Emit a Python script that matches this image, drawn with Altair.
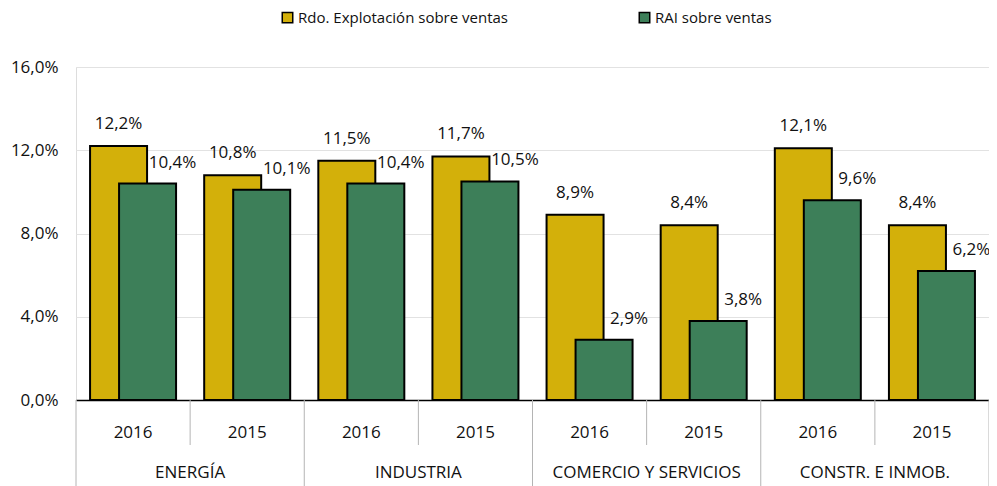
import altair as alt
import pandas as pd

sectores = ["ENERGÍA", "INDUSTRIA", "COMERCIO Y SERVICIOS", "CONSTR. E INMOB."]
anios = ["2016", "2015"]
rdo_explotacion = [12.2, 10.8, 11.5, 11.7, 8.9, 8.4, 12.1, 8.4]
rai_ventas = [10.4, 10.1, 10.4, 10.5, 2.9, 3.8, 9.6, 6.2]
series = ["Rdo. Explotación sobre ventas", "RAI sobre ventas"]
colores = ["#D3B00A", "#3D7F59"]
y_ticks = [0, 4, 8, 12, 16]

W, H = 913, 333
FONT = "Open Sans"

keys = [f"{s}|{a}" for s in sectores for a in anios]
rows = []
for i, k in enumerate(keys):
    s, a = k.split("|")
    rows.append(dict(key=k, sector=s, anio=a, serie=series[0], valor=rdo_explotacion[i]))
    rows.append(dict(key=k, sector=s, anio=a, serie=series[1], valor=rai_ventas[i]))
df = pd.DataFrame(rows)

cats = pd.DataFrame({
    "key": keys,
    "anio": [k.split("|")[1] for k in keys],
    "first": [k.split("|")[1] == anios[0] for k in keys],
})
sect = pd.DataFrame({"key": [f"{s}|{anios[0]}" for s in sectores], "sector": sectores})
last = pd.DataFrame({"key": [keys[-1]]})

xscale = alt.Scale(domain=keys, paddingInner=0, paddingOuter=0)
xaxis = alt.Axis(labels=False, ticks=False, grid=False, domainColor="black", domainWidth=1.5)
yscale = alt.Scale(domain=[0, 16], nice=False)
yaxis = alt.Axis(values=y_ticks, grid=True, gridColor="#e2e2e2", gridWidth=1, ticks=False,
                 domain=False, labelPadding=18, labelFont=FONT, labelFontSize=17,
                 labelColor="#111111",
                 labelExpr="replace(format(datum.value, '.1f'), '.', ',') + '%'")

legend = alt.Legend(orient="none", legendX=204, legendY=-57, direction="horizontal",
                    columnPadding=128, symbolType="square", symbolSize=110,
                    symbolStrokeColor="black", symbolStrokeWidth=1.5, symbolOpacity=1,
                    labelFont=FONT, labelFontSize=15, labelColor="#111111", labelOffset=3,
                    labelLimit=500, title=None)
color = alt.Color("serie:N", scale=alt.Scale(domain=series, range=colores), legend=legend)

base = alt.Chart(df).transform_calculate(
    etiqueta="replace(format(datum.valor, '.1f'), '.', ',') + '%'"
)
X = alt.X("key:N", scale=xscale, axis=xaxis, title=None, sort=keys)
Y = alt.Y("valor:Q", scale=yscale, axis=yaxis, title=None)

bar1 = base.transform_filter(alt.datum.serie == series[0]).mark_bar(
    width=57, xOffset=-14.5, stroke="black", strokeWidth=2
).encode(x=X, y=Y, color=color)
bar2 = base.transform_filter(alt.datum.serie == series[1]).mark_bar(
    width=57, xOffset=14.5, stroke="black", strokeWidth=2
).encode(x=X, y=Y, color=color)

txt1 = base.transform_filter(alt.datum.serie == series[0]).mark_text(
    dx=-14.5, dy=-22, baseline="middle", align="center", font=FONT, fontSize=17, color="#111111"
).encode(x=X, y=Y, text="etiqueta:N")
txt2 = base.transform_filter(alt.datum.serie == series[1]).mark_text(
    dx=39.5, dy=-21, baseline="middle", align="center", font=FONT, fontSize=17, color="#111111"
).encode(x=X, y=Y, text="etiqueta:N")

years_txt = alt.Chart(cats).mark_text(
    baseline="middle", align="center", font=FONT, fontSize=17, color="#111111"
).encode(x=alt.X("key:N", scale=xscale, title=None), y=alt.value(H + 33), text="anio:N")

sector_txt = alt.Chart(sect).mark_text(
    baseline="middle", align="center", font=FONT, fontSize=17, color="#111111"
).encode(x=alt.X("key:N", scale=xscale, bandPosition=1, title=None),
         y=alt.value(H + 73), text="sector:N")

sep_year = alt.Chart(cats).transform_filter("!datum.first").mark_rule(
    color="#b4b4b4", strokeWidth=1
).encode(x=alt.X("key:N", scale=xscale, bandPosition=0, title=None),
         y=alt.value(H), y2=alt.value(H + 45))
sep_sector = alt.Chart(cats).transform_filter("datum.first").mark_rule(
    color="#b4b4b4", strokeWidth=1
).encode(x=alt.X("key:N", scale=xscale, bandPosition=0, title=None),
         y=alt.value(H), y2=alt.value(H + 90))
sep_end = alt.Chart(last).mark_rule(color="#b4b4b4", strokeWidth=1).encode(
    x=alt.X("key:N", scale=xscale, bandPosition=1, title=None),
    y=alt.value(H), y2=alt.value(H + 90))

chart = alt.layer(
    bar1, bar2, txt1, txt2, years_txt, sector_txt, sep_year, sep_sector, sep_end
).properties(
    width=W, height=H,
    autosize=alt.AutoSizeParams(type="none"),
    padding={"left": 68, "top": 59, "right": 0, "bottom": 90},
).configure_view(stroke=None).configure(background="white")

chart.save("out.html", embed_options={"renderer": "svg", "actions": False})
